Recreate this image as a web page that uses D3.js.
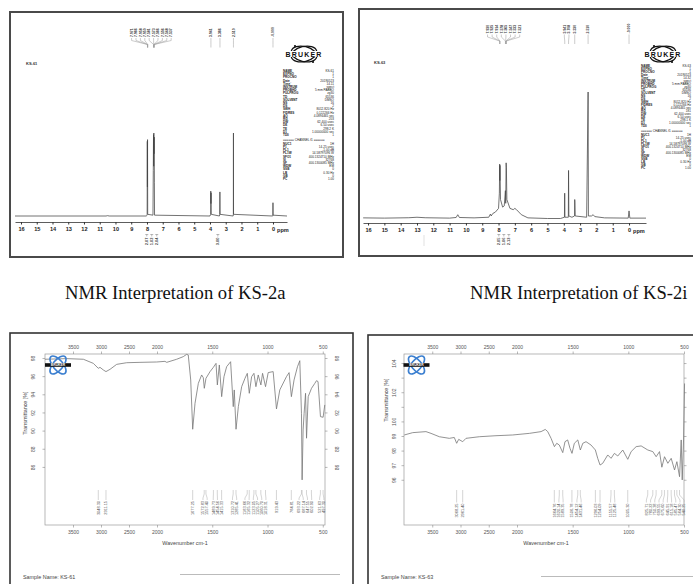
<!DOCTYPE html>
<html>
<head>
<meta charset="utf-8">
<script src="https://cdn.jsdelivr.net/npm/d3@7"></script>
<style>
html, body { margin: 0; padding: 0; background: #fff; }
svg { display: block; font-family: "Liberation Sans", Arial, sans-serif; }
</style>
</head>
<body>
<svg id="chart" width="693" height="584"></svg>
<script>
// ---- data ----
const ppmTicks = [16, 15, 14, 13, 12, 11, 10, 9, 8, 7, 6, 5, 4, 3, 2, 1, 0];
const wnTicks = [3500, 3000, 2500, 2000, 1500, 1000, 500];
const tTicksA = [98, 96, 94, 92, 90, 88, 86];
const tTicksB = [104, 103, 102, 101, 100, 99, 98, 97, 96];

// 1H NMR, KS-61: [ppm, relative intensity]
const nmrA = [
  [16.38, 0], [10.6, 0], [10.5, 0.004], [10.4, 0], [8.05, 0], [7.99, 0.01], [7.98, 0.9], [7.972, 0.35],
  [7.965, 0.92], [7.955, 0.02], [7.62, 0.01], [7.60, 0.55], [7.585, 0.98], [7.575, 0.6], [7.565, 1.0],
  [7.55, 0.75], [7.54, 0.95], [7.53, 0.4], [7.52, 0.01], [4.0, 0], [3.96, 0.02], [3.95, 0.30], [3.94, 0.15],
  [3.93, 0.28], [3.92, 0.02], [3.4, 0], [3.38, 0.02], [3.37, 0.29], [3.36, 0.02], [2.53, 0], [2.515, 0.02],
  [2.51, 1.0], [2.505, 0.02], [0.02, 0], [0.005, 0.01], [0, 0.16], [-0.005, 0.01], [-0.89, 0]
];
const nmrAPeaks = ["7.971", "7.966", "7.958", "7.950", "7.581", "7.573", "7.566", "7.556", "7.548", "7.537",
  "3.941", "3.366", "2.510", "-0.000"];
const nmrAInt = [7.97, 7.58, 7.54, 3.5];
const nmrAIntVals = ["2.07", "1.02", "2.04", "3.00"];

// 1H NMR, KS-63
const nmrB = [
  [16.3, 0.005], [15, 0.003], [13.5, 0.006], [13, 0.01], [12.5, 0.006], [11, 0.003], [10.6, 0.008], [10.5, 0.03],
  [10.4, 0.008], [9.5, 0.005], [8.6, 0.01], [8.5, 0.035], [8.45, 0.02], [8.35, 0.04], [8.2, 0.05], [8.0, 0.08],
  [7.95, 0.2], [7.93, 0.43], [7.92, 0.3], [7.91, 0.42], [7.88, 0.15], [7.75, 0.09], [7.65, 0.1], [7.58, 0.22],
  [7.56, 0.12], [7.535, 0.44], [7.52, 0.4], [7.49, 0.15], [7.3, 0.08], [7.1, 0.07], [7.0, 0.08], [6.9, 0.07],
  [6.6, 0.03], [6.2, 0.005], [5, 0], [4.2, 0], [3.96, 0.01], [3.945, 0.2], [3.93, 0.01], [3.72, 0.01],
  [3.708, 0.38], [3.69, 0.02], [3.5, 0.01], [3.34, 0.02], [3.33, 0.15], [3.32, 0.13], [3.30, 0.02], [2.6, 0.01],
  [2.51, 1.0], [2.49, 0.02], [2.3, 0.02], [2.2, 0.03], [2.1, 0.015], [1.5, 0.005], [0.05, 0.003], [0, 0.06],
  [-0.05, 0.003], [-1.04, 0.003]
];
const nmrBPeaks = ["7.930", "7.925", "7.914", "7.578", "7.565", "7.547", "7.533", "7.521",
  "3.941", "3.708", "3.330", "2.510", "-0.000"];
const nmrBInt = [7.93, 7.58, 7.52];
const nmrBIntVals = ["2.05", "1.06", "2.13"];

// acquisition parameter tables
const parNames = ["NAME", "EXPNO", "PROCNO", "Date_", "Time", "INSTRUM", "PROBHD", "PULPROG", "TD", "SOLVENT",
  "NS", "DS", "SWH", "FIDRES", "AQ", "RG", "DW", "DE", "TE", "D1", "TD0"];
const parValsA = ["KS-61", "1", "1", "20190523", "14.11", "spect", "5 mm PABBO", "zg30", "65536", "DMSO",
  "16", "2", "8012.820 Hz", "0.122266 Hz", "4.0894465 sec", "203", "62.400 usec", "6.50 usec", "298.2 K",
  "1.00000000 sec", "1"];
const parValsB = ["KS-63", "1", "1", "20190523", "14.32", "spect", "5 mm PABBO", "zg30", "65536", "DMSO",
  "16", "2", "8012.820 Hz", "0.122266 Hz", "4.0894465 sec", "181", "62.400 usec", "6.50 usec", "298.1 K",
  "1.00000000 sec", "1"];
const chanNames = ["NUC1", "P1", "PL1", "PL1W", "SFO1", "SI", "SF", "WDW", "SSB", "LB", "GB", "PC"];
const chanVals = ["1H", "14.25 usec", "-1.00 dB", "14.58797096 W", "400.1324710 MHz", "32768",
  "400.1300085 MHz", "EM", "0", "0.30 Hz", "0", "1.00"];

// FT-IR, KS-61: [wavenumber, transmittance %]
const irA = [
  [4000, 97.86], [3613, 97.93], [3315, 97.86], [3137, 97.41], [3048, 96.86], [3018, 96.97], [2958, 96.68],
  [2911, 96.50], [2839, 96.75], [2720, 97.30], [2541, 97.48], [2304, 97.52], [2005, 97.56], [1928, 97.63],
  [1912, 97.52], [1822, 97.86], [1762, 98.15], [1732, 98.40], [1717, 98.33], [1695, 95.58], [1677, 90.15],
  [1656, 93.01], [1626, 95.21], [1596, 96.13], [1581, 95.83], [1572, 94.66], [1557, 95.76], [1520, 96.50],
  [1490, 96.97], [1466, 97.41], [1454, 95.03], [1436, 97.23], [1415, 93.74], [1394, 95.94], [1370, 97.04],
  [1334, 97.59], [1310, 92.64], [1301, 94.48], [1285, 90.15], [1264, 92.64], [1234, 94.84], [1204, 95.76],
  [1183, 96.31], [1165, 94.11], [1144, 95.94], [1123, 96.31], [1105, 94.84], [1084, 96.13], [1060, 95.03],
  [1045, 96.31], [1018, 94.84], [994, 96.39], [949, 96.50], [919, 92.39], [889, 94.48], [829, 95.94],
  [805, 96.39], [784, 93.74], [760, 95.58], [729, 97.04], [708, 97.70], [693, 91.91], [687, 84.57],
  [678, 90.07], [669, 91.91], [656, 94.11], [647, 89.16], [632, 93.74], [602, 94.66], [572, 95.21],
  [557, 95.50], [543, 95.40], [521, 91.54], [497, 91.47], [482, 92.83]
];
const irAPeaks = ["3048.30", "2911.15", "1677.25", "1572.83", "1557.40", "1489.73", "1454.56", "1415.33",
  "1310.72", "1285.41", "1183.66", "1165.32", "1123.05", "1105.27", "1060.70", "1018.31", "919.43",
  "784.81", "693.22", "687.14", "647.55", "602.90", "521.63", "497.30"];

// FT-IR, KS-63
const irB = [
  [3995, 99.07], [3846, 99.23], [3611, 99.30], [3522, 99.18], [3375, 98.95], [3198, 98.84], [3110, 98.90],
  [3068, 98.50], [3032, 98.77], [2961, 98.61], [2903, 98.84], [2667, 98.95], [2372, 99.02], [2076, 99.07],
  [1889, 99.18], [1784, 99.30], [1746, 99.45], [1724, 99.30], [1694, 98.84], [1664, 98.27], [1643, 98.50],
  [1620, 98.38], [1589, 97.86], [1569, 98.61], [1545, 98.73], [1524, 98.16], [1506, 97.81], [1485, 98.50],
  [1454, 98.73], [1431, 98.04], [1409, 98.50], [1380, 98.61], [1335, 98.38], [1296, 98.04], [1275, 97.47],
  [1254, 97.01], [1230, 97.13], [1185, 97.70], [1155, 97.47], [1125, 97.81], [1095, 97.63], [1050, 98.04],
  [1005, 97.40], [975, 97.93], [930, 98.27], [885, 98.32], [825, 98.04], [780, 97.93], [750, 97.58],
  [720, 97.93], [699, 96.86], [675, 97.58], [645, 97.13], [615, 97.47], [585, 96.67], [564, 97.24],
  [540, 96.21], [525, 98.73], [516, 95.99], [504, 98.73], [495, 102.6]
];
const irBPeaks = ["3068.25", "2961.40", "1664.76", "1620.14", "1589.35", "1506.78", "1454.12", "1431.46",
  "1296.03", "1254.09", "1155.57", "1125.48", "1005.30", "825.71", "780.22", "750.38", "699.55", "675.60",
  "645.91", "615.18", "585.47", "564.30", "540.25"];

const captions = ["NMR Interpretation of KS-2a", "NMR Interpretation of KS-2i"];

// ---- helpers ----
const svg = d3.select('#chart');
svg.append('rect').attr('width', 693).attr('height', 584).attr('fill', '#fff');

// spread crowded peak labels (pixel positions sorted ascending)
function spread(xs, gap) {
  let groups = xs.map(v => ({ n: 1, sum: v }));
  let changed = true;
  while (changed) {
    changed = false;
    for (let i = 1; i < groups.length; i++) {
      const a = groups[i - 1], b = groups[i];
      const aEnd = a.sum / a.n + (a.n - 1) / 2 * gap;
      const bStart = b.sum / b.n - (b.n - 1) / 2 * gap;
      if (bStart - aEnd < gap) {
        groups.splice(i - 1, 2, { n: a.n + b.n, sum: a.sum + b.sum });
        changed = true;
        break;
      }
    }
  }
  const out = [];
  groups.forEach(gr => {
    const c = gr.sum / gr.n;
    for (let k = 0; k < gr.n; k++) out.push(c + (k - (gr.n - 1) / 2) * gap);
  });
  return out;
}

function nmrLogo(g, cx, cy) {
  const lg = g.append('g').attr('transform', `translate(${cx},${cy})`);
  [-14, 14].forEach(r => {
    lg.append('ellipse').attr('rx', 13).attr('ry', 7.5).attr('transform', `rotate(${r})`)
      .attr('fill', 'none').attr('stroke', '#111').attr('stroke-width', 1.3);
  });
  lg.append('rect').attr('x', -21).attr('y', -3).attr('width', 42).attr('height', 6).attr('fill', '#fff');
  lg.append('text').text('BRUKER').attr('text-anchor', 'middle').attr('y', 2.6)
    .attr('font-size', 7).attr('font-weight', 'bold').attr('letter-spacing', 1.2).attr('fill', '#111');
  [[-9, -8], [9, 8]].forEach(p => lg.append('circle').attr('cx', p[0]).attr('cy', p[1]).attr('r', 1.1).attr('fill', '#111'));
}

function irLogo(g, cx, cy) {
  const lg = g.append('g').attr('transform', `translate(${cx},${cy})`);
  [-50, 50].forEach(r => {
    lg.append('ellipse').attr('rx', 11).attr('ry', 5).attr('transform', `rotate(${r})`)
      .attr('fill', 'none').attr('stroke', '#3b7fd0').attr('stroke-width', 1.6);
  });
  lg.append('rect').attr('x', -13).attr('y', -1.8).attr('width', 26).attr('height', 3.6).attr('fill', '#111');
  lg.append('text').text('BRUKER').attr('text-anchor', 'middle').attr('y', 1.2)
    .attr('font-size', 3.4).attr('font-weight', 'bold').attr('fill', '#fff');
}

function drawNMR(o) {
  const g = svg.append('g');
  g.append('rect').attr('x', o.frame[0]).attr('y', o.frame[1]).attr('width', o.frame[2]).attr('height', o.frame[3])
    .attr('fill', 'none').attr('stroke', '#4a4a4a').attr('stroke-width', 2);

  const x = d3.scaleLinear().domain(o.ppmDomain).range(o.xRange);
  const y = d3.scaleLinear().domain([0, 1]).range(o.yRange);

  g.append('path').datum(o.data)
    .attr('d', d3.line().x(d => x(d[0])).y(d => y(d[1])))
    .attr('fill', 'none').attr('stroke', '#444').attr('stroke-width', 0.75);

  const ax = g.append('g').attr('transform', `translate(0,${o.axisY})`)
    .call(d3.axisBottom(x).tickValues(ppmTicks).tickSize(2.5).tickSizeOuter(0).tickPadding(2.5));
  ax.select('.domain').attr('stroke', '#333').attr('stroke-width', 0.8);
  ax.selectAll('line').attr('stroke', '#333');
  ax.selectAll('text').attr('font-size', 5.6).attr('font-weight', 'bold').attr('fill', '#222')
    .attr('font-family', '"Liberation Sans", Arial, sans-serif');
  g.append('text').text('ppm').attr('x', x(0) + 4).attr('y', o.axisY + 9.6)
    .attr('font-size', 5.6).attr('font-weight', 'bold').attr('fill', '#222');

  // sample id
  g.append('text').text(o.sample).attr('x', o.sampleXY[0]).attr('y', o.sampleXY[1])
    .attr('font-size', 4).attr('font-weight', 'bold').attr('fill', '#333');

  // peak picking labels at the top
  const px = o.peaks.map(s => x(+s));
  const lx = spread(px, o.gap);
  o.peaks.forEach((s, i) => {
    g.append('text').text(s)
      .attr('transform', `translate(${lx[i] + 1.3},${o.labelY}) rotate(-90)`)
      .attr('font-size', 3.5).attr('font-weight', 'bold').attr('fill', '#333');
    g.append('path')
      .attr('d', `M${lx[i]},${o.labelY + 1}V${o.labelY + 3.5}L${px[i]},${o.labelY + 7.5}V${o.labelY + 10.5}`)
      .attr('fill', 'none').attr('stroke', '#999').attr('stroke-width', 0.5);
  });

  // integrals under the axis
  const ix = spread(o.ints.map(v => x(v)), 5);
  o.ints.forEach((v, i) => {
    g.append('path').attr('d', `M${ix[i] - 1.5},234.5H${ix[i] + 1.5}M${ix[i]},234.5V236.5`)
      .attr('stroke', '#777').attr('stroke-width', 0.5).attr('fill', 'none');
    g.append('text').text(o.intVals[i])
      .attr('transform', `translate(${ix[i] + 1.3},237.5) rotate(-90)`).attr('text-anchor', 'end')
      .attr('font-size', 4).attr('font-weight', 'bold').attr('fill', '#444');
  });

  nmrLogo(g, o.logo[0], o.logo[1]);

  // parameter table
  const pt = g.append('g').attr('font-size', 3.1).attr('fill', '#222');
  parNames.forEach((n, i) => {
    const yy = o.parY + i * o.parStep;
    pt.append('text').text(n).attr('x', o.parX[0]).attr('y', yy).attr('font-weight', 'bold');
    pt.append('text').text(o.parVals[i]).attr('x', o.parX[1]).attr('y', yy).attr('text-anchor', 'end');
  });
  const sepY = o.parY + parNames.length * o.parStep + 1.6;
  pt.append('text').text('====== CHANNEL f1 ======').attr('x', o.parX[0]).attr('y', sepY);
  chanNames.forEach((n, i) => {
    const yy = sepY + 4 + i * o.parStep;
    pt.append('text').text(n).attr('x', o.parX[0]).attr('y', yy).attr('font-weight', 'bold');
    pt.append('text').text(chanVals[i]).attr('x', o.parX[1]).attr('y', yy).attr('text-anchor', 'end');
  });
}

function drawIR(o) {
  const g = svg.append('g');
  g.append('rect').attr('x', o.frame[0]).attr('y', o.frame[1]).attr('width', o.frame[2]).attr('height', o.frame[3])
    .attr('fill', 'none').attr('stroke', '#333').attr('stroke-width', 1.6);

  const [L, T, R, B] = o.box;
  const x = d3.scaleLinear().domain(o.wnDomain).range(o.xRange);
  const y = d3.scaleLinear().domain(o.tDomain).range([B, T]);

  g.append('rect').attr('x', L).attr('y', T).attr('width', R - L).attr('height', B - T)
    .attr('fill', 'none').attr('stroke', '#9a9a9a').attr('stroke-width', 0.7);

  const style = a => {
    a.select('.domain').remove();
    a.selectAll('line').attr('stroke', '#888').attr('stroke-width', 0.6);
    a.selectAll('text').attr('font-size', 5).attr('fill', '#555')
      .attr('font-family', '"Liberation Sans", Arial, sans-serif');
  };
  const wnFmt = d3.format('d');
  g.append('g').attr('transform', `translate(0,${T})`)
    .call(d3.axisTop(x).tickValues(wnTicks).tickFormat(wnFmt).tickSize(2.5).tickSizeOuter(0).tickPadding(3)).call(style);
  g.append('g').attr('transform', `translate(0,${B})`)
    .call(d3.axisBottom(x).tickValues(wnTicks).tickFormat(wnFmt).tickSize(2.5).tickSizeOuter(0).tickPadding(3)).call(style);

  const fmt = v => o.tLabels.includes(v) ? String(v) : '';
  g.append('g').attr('transform', `translate(${L},0)`)
    .call(d3.axisLeft(y).tickValues(o.tTicks).tickFormat(fmt).tickSize(2.5).tickSizeOuter(0)).call(style)
    .selectAll('text').attr('x', 0).attr('dy', 0).attr('text-anchor', 'middle')
    .attr('transform', `translate(${o.yLabOff[0]},0) rotate(-90)`);
  const rightFmt = o.rightLabels ? fmt : () => '';
  g.append('g').attr('transform', `translate(${R},0)`)
    .call(d3.axisRight(y).tickValues(o.tTicks).tickFormat(rightFmt).tickSize(2.5).tickSizeOuter(0)).call(style)
    .selectAll('text').attr('x', 0).attr('dy', 0).attr('text-anchor', 'middle')
    .attr('transform', `translate(${o.yLabOff[1]},0) rotate(-90)`);

  g.append('path').datum(o.data)
    .attr('d', d3.line().x(d => x(d[0])).y(d => y(d[1])))
    .attr('fill', 'none').attr('stroke', '#777').attr('stroke-width', 0.8);

  // peak labels
  const px = o.peaks.map(s => x(+s));
  const lx = spread(px, 4.2);
  const [y0, y1, y2, y3] = o.peakY;
  o.peaks.forEach((s, i) => {
    g.append('path').attr('d', `M${px[i]},${y0}V${y1}L${lx[i]},${y2}V${y3}`)
      .attr('fill', 'none').attr('stroke', '#aaa').attr('stroke-width', 0.5);
    g.append('text').text(s)
      .attr('transform', `translate(${lx[i] + 1.3},${y3 + 1}) rotate(-90)`).attr('text-anchor', 'end')
      .attr('font-size', 3.9).attr('fill', '#555');
  });

  irLogo(g, o.logo[0], o.logo[1]);

  g.append('text').text('Transmittance [%]')
    .attr('transform', `translate(${o.tTitle[0]},${o.tTitle[1]}) rotate(-90)`).attr('text-anchor', 'middle')
    .attr('font-size', 5.4).attr('fill', '#444');
  g.append('text').text('Wavenumber cm-1').attr('x', o.wTitle[0]).attr('y', o.wTitle[1])
    .attr('text-anchor', 'middle').attr('font-size', 5.4).attr('fill', '#444');
  g.append('text').text('Sample Name: ' + o.sample).attr('x', o.sampleXY[0]).attr('y', o.sampleXY[1])
    .attr('font-size', 5.4).attr('fill', '#444');
  g.append('line').attr('x1', o.rule[0]).attr('x2', o.rule[1]).attr('y1', o.rule[2]).attr('y2', o.rule[2])
    .attr('stroke', '#aaa').attr('stroke-width', 0.8);
}

// ---- panels ----
drawNMR({
  frame: [10, 12, 333, 245], ppmDomain: [16.38, -0.89], xRange: [15, 287], yRange: [216, 133], axisY: 222,
  data: nmrA, peaks: nmrAPeaks, gap: 4.4, labelY: 37, ints: nmrAInt, intVals: nmrAIntVals,
  sample: 'KS-61', sampleXY: [26, 64.5], logo: [304, 54],
  parVals: parValsA, parX: [283, 334], parY: 72, parStep: 3.2
});
drawNMR({
  frame: [359, 9, 360, 247], ppmDomain: [16.31, -1.04], xRange: [363, 646], yRange: [218.5, 92], axisY: 223,
  data: nmrB, peaks: nmrBPeaks, gap: 4.6, labelY: 33.5, ints: nmrBInt, intVals: nmrBIntVals,
  sample: 'KS-63', sampleXY: [374, 63.5], logo: [663, 54],
  parVals: parValsB, parX: [641, 691], parY: 67, parStep: 3.0
});
// faint integral marker left in the KS-63 trace
svg.append('line').attr('x1', 424).attr('x2', 424).attr('y1', 235).attr('y2', 246)
  .attr('stroke', '#ccc').attr('stroke-width', 0.6);

drawIR({
  frame: [10, 333, 343, 280], box: [45, 354, 325, 525],
  wnDomain: [4000, 2000, 480], xRange: [45, 157, 325], tDomain: [79.6, 98.44],
  tTicks: tTicksA, tLabels: tTicksA, yLabOff: [-10, 14], rightLabels: true,
  data: irA, peaks: irAPeaks, peakY: [490, 494, 498, 500],
  logo: [58, 365], tTitle: [27, 413], wTitle: [185, 545],
  sample: 'KS-61', sampleXY: [23, 579], rule: [180, 340, 574.5]
});
drawIR({
  frame: [368, 335, 400, 280], box: [404, 354, 684, 525],
  wnDomain: [4000, 2000, 500], xRange: [404, 517, 684], tDomain: [92.9, 104.62],
  tTicks: tTicksB, tLabels: [104, 102, 100, 99, 98, 97, 96], yLabOff: [-8, 12], rightLabels: false,
  data: irB, peaks: irBPeaks, peakY: [490, 495, 500, 502.5],
  logo: [416.5, 365], tTitle: [388, 400], wTitle: [546, 545],
  sample: 'KS-63', sampleXY: [381, 579], rule: [541, 693, 576.5]
});

// figure captions
[[65, captions[0]], [470, captions[1]]].forEach(c => {
  svg.append('text').text(c[1]).attr('x', c[0]).attr('y', 299)
    .attr('font-family', '"Liberation Serif", "Times New Roman", serif').attr('font-size', 18.6).attr('fill', '#111');
});
</script>
</body>
</html>
